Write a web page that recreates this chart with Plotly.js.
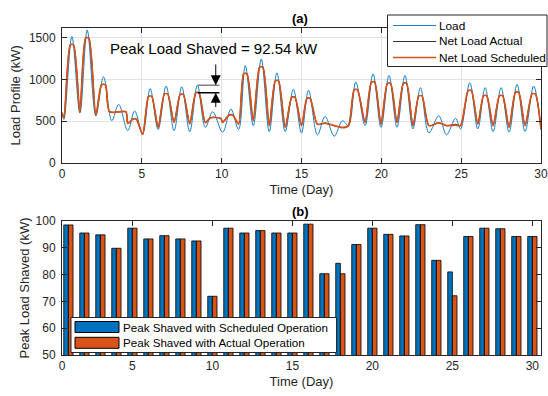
<!DOCTYPE html>
<html><head><meta charset="utf-8">
<script src="https://cdn.plot.ly/plotly-3.0.1.min.js"></script>
<style>html,body{margin:0;padding:0;background:#fff}#chart{width:548px;height:396px}</style>
</head><body><div id="chart"></div>
<script>
// ---- (a) load profile: read at daily peaks / troughs ----
const loadDay = [0, 0.12, 0.62, 1.12, 1.58, 2.12, 2.6, 3.12, 3.55, 4.12, 4.55, 5.05, 5.52, 6.02, 6.52, 7.02, 7.5, 8.0, 8.48, 8.98, 9.44, 10.06, 10.58, 11.06, 11.48, 11.98, 12.48, 12.98, 13.46, 13.98, 14.49, 15.0, 15.44, 16.0, 16.48, 17.05, 17.56, 17.94, 18.4, 18.98, 19.48, 19.98, 20.48, 20.98, 21.48, 21.98, 22.45, 22.98, 23.6, 24.08, 24.65, 24.96, 25.54, 26.04, 26.5, 27.0, 27.5, 28.0, 28.5, 29.0, 29.54, 30.0];
const loadKW = [600, 520, 1512, 595, 1590, 563, 1030, 504, 700, 385, 622, 346, 888, 397, 919, 385, 910, 373, 930, 425, 611, 365, 642, 397, 1164, 445, 1243, 373, 1077, 373, 880, 358, 868, 334, 555, 318, 504, 445, 966, 445, 1065, 425, 1045, 425, 1045, 405, 900, 358, 563, 334, 531, 405, 958, 405, 900, 373, 900, 365, 939, 373, 919, 400];

const netDay = [0, 0.12, 0.52, 0.72, 1.12, 1.48, 1.68, 2.12, 2.48, 2.72, 2.98, 4.0, 4.12, 4.45, 4.65, 5.05, 5.42, 5.62, 6.02, 6.42, 6.62, 7.02, 7.4, 7.6, 8.0, 8.38, 8.58, 8.98, 9.3, 9.95, 10.06, 10.45, 10.7, 11.06, 11.38, 11.58, 11.98, 12.38, 12.58, 12.98, 13.36, 13.56, 13.98, 14.39, 14.59, 15.0, 15.34, 15.54, 16.0, 16.48, 17.05, 17.56, 17.94, 18.3, 18.5, 18.98, 19.38, 19.58, 19.98, 20.38, 20.58, 20.98, 21.38, 21.58, 21.98, 22.35, 22.55, 22.98, 23.6, 24.08, 24.65, 24.96, 25.44, 25.64, 26.04, 26.4, 26.6, 27.0, 27.4, 27.6, 28.0, 28.4, 28.6, 29.0, 29.44, 29.64, 30.0];
const netScheduledKW = [600, 540, 1413, 1413, 610, 1495, 1495, 570, 935, 935, 611, 611, 470, 525, 525, 340, 795, 795, 425, 825, 825, 484, 817, 817, 464, 838, 838, 480, 540, 530, 484, 570, 570, 464, 1067, 1067, 504, 1147, 1147, 445, 981, 981, 425, 785, 785, 445, 770, 770, 460, 475, 445, 420, 445, 875, 875, 484, 968, 968, 464, 950, 950, 484, 951, 951, 445, 801, 801, 445, 478, 445, 450, 445, 864, 864, 464, 803, 803, 445, 803, 803, 425, 845, 845, 445, 825, 825, 400];
const netActualKW = [600, 540, 1413, 1413, 610, 1495, 1495, 570, 935, 935, 611, 611, 470, 525, 525, 340, 795, 795, 425, 825, 825, 484, 817, 817, 464, 838, 838, 480, 540, 530, 484, 570, 570, 464, 1067, 1067, 504, 1147, 1147, 445, 981, 981, 425, 785, 785, 445, 770, 770, 460, 475, 445, 424, 445, 875, 875, 484, 968, 968, 464, 950, 950, 484, 951, 951, 445, 801, 801, 445, 478, 445, 459, 445, 864, 864, 464, 803, 803, 445, 803, 803, 425, 845, 845, 445, 825, 825, 400];

// annotation of day-9 peak shaving
const shavedNoteDay = [8.5, 9.86];
const shavedNoteKW = [930, 837.5];
const shavedNoteText = 'Peak Load Shaved = 92.54 kW';

// ---- (b) daily peak shaved ----
const barDays = [1,2,3,4,5,6,7,8,9,10,11,12,13,14,15,16,17,18,19,20,21,22,23,24,25,26,27,28,29,30];
const shavedScheduled = [98.5, 95.5, 94.8, 89.8, 97.3, 93.3, 94.5, 93.3, 92.54, 71.9, 97.3, 95.5, 96.4, 95.5, 95.5, 98.8, 80.3, 84.2, 91.2, 97.3, 95.0, 94.4, 98.6, 85.3, 81.0, 94.2, 97.3, 97.1, 94.2, 94.2];
const shavedActual    = [98.5, 95.5, 94.8, 89.8, 97.3, 93.3, 94.5, 93.3, 92.54, 71.9, 97.3, 95.5, 96.4, 95.5, 95.5, 98.8, 80.3, 80.3, 91.2, 97.3, 95.0, 94.4, 98.6, 85.3, 72.1, 94.2, 97.3, 97.1, 94.2, 94.2];

const xTicksA = [0, 5, 10, 15, 20, 25, 30];
const xTickTextB = ['0', '5', '10', '15', '20', '25', '30'];
const yTicksA = [0, 500, 1000, 1500];

const BLUE = '#0072BD', ORANGE = '#D95319', INK = '#262626';
const FONT = 'Liberation Sans, Arial, Helvetica, sans-serif';

const traces = [
  {x: loadDay, y: loadKW, name: 'Load', type: 'scatter', mode: 'lines',
   line: {color: '#1a7fc6', width: 1, shape: 'spline', smoothing: 1}, xaxis: 'x', yaxis: 'y'},
  {x: netDay, y: netActualKW, name: 'Net Load Actual', type: 'scatter', mode: 'lines',
   line: {color: '#333333', width: 1.2, shape: 'spline', smoothing: 0.7}, xaxis: 'x', yaxis: 'y'},
  {x: netDay, y: netScheduledKW, name: 'Net Load Scheduled', type: 'scatter', mode: 'lines',
   line: {color: ORANGE, width: 1.7, shape: 'spline', smoothing: 0.7}, xaxis: 'x', yaxis: 'y'},
  {x: barDays, y: shavedScheduled, name: 'Peak Shaved with Scheduled Operation', type: 'bar',
   marker: {color: BLUE, line: {color: '#000', width: 0.8}}, xaxis: 'x2', yaxis: 'y2'},
  {x: barDays, y: shavedActual, name: 'Peak Shaved with Actual Operation', type: 'bar',
   marker: {color: ORANGE, line: {color: '#000', width: 0.8}}, xaxis: 'x2', yaxis: 'y2'}
];

// ---- hand-drawn legends (MATLAB style), positioned in pixels ----
const ML = 62, MT = 28, PW = 479, PH = 327;
const px2x = p => (p - ML) / PW;
const px2y = p => (PH + MT - p) / PH;
const shapes = [
  {type: 'line', xref: 'x', yref: 'y', x0: shavedNoteDay[0], x1: shavedNoteDay[1], y0: shavedNoteKW[0], y1: shavedNoteKW[0],
   line: {color: '#808080', width: 1.5}},
  {type: 'line', xref: 'x', yref: 'y', x0: shavedNoteDay[0], x1: shavedNoteDay[1], y0: shavedNoteKW[1], y1: shavedNoteKW[1],
   line: {color: '#000', width: 1.5}}
];
const annotations = [
  {text: '<b>(a)</b>', xref: 'paper', yref: 'paper', x: 0.497, y: px2y(18), showarrow: false, font: {size: 13, color: '#000'}, yanchor: 'middle'},
  {text: '<b>(b)</b>', xref: 'paper', yref: 'paper', x: 0.497, y: px2y(211), showarrow: false, font: {size: 13, color: '#000'}, yanchor: 'middle'},
  {text: shavedNoteText, xref: 'x', yref: 'y', x: 9.55, y: 1375, showarrow: false, font: {size: 15, color: '#000'}},
  {text: '', xref: 'x', yref: 'y', axref: 'x', ayref: 'y', x: 9.63, y: shavedNoteKW[0], ax: 9.63, ay: 1195,
   showarrow: true, arrowhead: 2, arrowsize: 2, arrowwidth: 1, arrowcolor: '#000', standoff: 0},
  {text: '', xref: 'x', yref: 'y', axref: 'x', ayref: 'y', x: 9.63, y: shavedNoteKW[1], ax: 9.63, ay: 650,
   showarrow: true, arrowhead: 2, arrowsize: 2, arrowwidth: 1, arrowcolor: '#000', standoff: 0}
];

// top legend
shapes.push({type: 'rect', xref: 'paper', yref: 'paper', x0: px2x(387.5), x1: px2x(547), y0: px2y(15), y1: px2y(66.5),
  fillcolor: '#fff', line: {color: INK, width: 1}});
const topLegendY = [25.5, 41.5, 57.5];
[0, 1, 2].forEach(i => {
  shapes.push({type: 'line', xref: 'paper', yref: 'paper', x0: px2x(393), x1: px2x(436), y0: px2y(topLegendY[i]), y1: px2y(topLegendY[i]),
    line: {color: traces[i].line.color, width: i === 2 ? 1.3 : 1}});
  annotations.push({text: traces[i].name, xref: 'paper', yref: 'paper', x: px2x(436.5), y: px2y(topLegendY[i]),
    xanchor: 'left', yanchor: 'middle', showarrow: false, font: {size: 11.8, color: '#000'}});
});
// bottom legend
shapes.push({type: 'rect', xref: 'paper', yref: 'paper', x0: px2x(71), x1: px2x(336.5), y0: px2y(317.5), y1: px2y(352.5),
  fillcolor: '#fff', line: {color: INK, width: 1}});
const botLegendY = [327, 342.8];
[3, 4].forEach((ti, i) => {
  shapes.push({type: 'rect', xref: 'paper', yref: 'paper', x0: px2x(75), x1: px2x(119), y0: px2y(botLegendY[i] - 5.5), y1: px2y(botLegendY[i] + 5.5),
    fillcolor: traces[ti].marker.color, line: {color: '#000', width: 1}});
  annotations.push({text: traces[ti].name, xref: 'paper', yref: 'paper', x: px2x(120.5), y: px2y(botLegendY[i]),
    xanchor: 'left', yanchor: 'middle', showarrow: false, font: {size: 11.6, color: '#000'}});
});

const axCommon = {showline: true, linecolor: INK, linewidth: 1, mirror: 'ticks', ticks: 'inside',
  ticklen: 5, tickcolor: INK, zeroline: false, tickfont: {size: 12, color: INK, family: FONT}};

const layout = {
  width: 548, height: 396,
  margin: {l: ML, r: 548 - ML - PW, t: MT, b: 396 - MT - PH},
  paper_bgcolor: '#fff', plot_bgcolor: '#fff',
  font: {family: FONT, color: INK},
  showlegend: false,
  barmode: 'group', bargap: 0.42, bargroupgap: 0,
  xaxis: Object.assign({}, axCommon, {domain: [0, 1], anchor: 'y', range: [0, 30], tickvals: xTicksA,
    showgrid: true, gridcolor: '#e2e2e2', title: {text: 'Time (Day)', font: {size: 13}, standoff: 4}}),
  yaxis: Object.assign({}, axCommon, {domain: [0.588, 1], anchor: 'x', range: [0, 1615], tickvals: yTicksA,
    showgrid: true, gridcolor: '#e2e2e2', ticklabelstandoff: 3, title: {text: 'Load Profile (kW)', font: {size: 13}, standoff: 5}}),
  xaxis2: Object.assign({}, axCommon, {domain: [0, 1], anchor: 'y2', range: [0.6, 30.54],
    tickvals: [0.6, 5, 10, 15, 20, 25, 30], ticktext: xTickTextB, showgrid: false,
    title: {text: 'Time (Day)', font: {size: 13}, standoff: 4}}),
  yaxis2: Object.assign({}, axCommon, {domain: [0, 0.41], anchor: 'x2', range: [50, 100], dtick: 10,
    showgrid: false, ticklabelstandoff: 3, title: {text: 'Peak Load Shaved (kW)', font: {size: 13}, standoff: 3}}),
  shapes: shapes,
  annotations: annotations
};

Plotly.newPlot('chart', traces, layout, {displayModeBar: false, staticPlot: true});
</script></body></html>
